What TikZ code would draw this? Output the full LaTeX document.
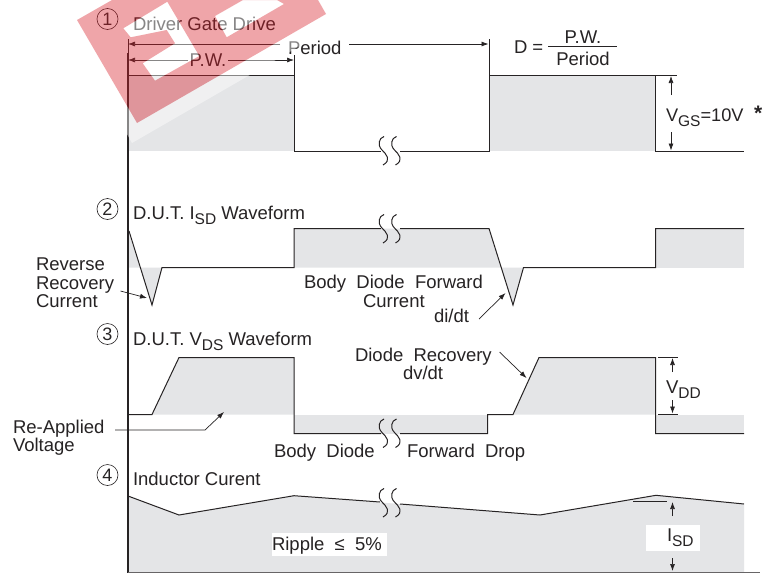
\documentclass[tikz,border=0pt]{standalone}
\usepackage{fontspec}
\setmainfont{Liberation Sans}
\usetikzlibrary{arrows.meta}
\definecolor{ink}{HTML}{262324}
\definecolor{shade}{HTML}{E4E5E7}
\definecolor{wm}{HTML}{D81F2A}
\newcommand{\subs}[1]{\raisebox{-5pt}{\fontsize{15.5}{15.5}\selectfont #1}}
\newcommand{\breakS}[2]{%
 \foreach \dx in {0,12.5}{
  \draw[wave] (#1+\dx+1,#2-14.5) .. controls (#1+\dx-4,#2-13) and (#1+\dx-6,#2-6) .. (#1+\dx-1,#2-1)
     .. controls (#1+\dx+3,#2+3) and (#1+\dx+9,#2+9) .. (#1+\dx+0,#2+14);}}
\tikzset{
 x=1pt,y=-1pt,
 wave/.style={draw=ink,line width=1pt,line join=miter},
 thin line/.style={draw=ink,line width=.7pt},
 gray fill/.style={fill=shade,draw=none},
 lbl/.style={anchor=base west,inner sep=0pt,outer sep=0pt,text=ink,font=\fontsize{18.5}{18.5}\selectfont},
 clbl/.style={anchor=base,inner sep=0pt,outer sep=0pt,text=ink,font=\fontsize{18.5}{18.5}\selectfont},
 num/.style={circle,draw=ink,line width=.6pt,minimum size=21pt,inner sep=0pt,text=ink,font=\fontsize{18}{18}\selectfont},
 arr/.style={thin line,-{Latex[length=7pt,width=5pt]}},
}
\begin{document}
\begin{tikzpicture}
\useasboundingbox (0,0) rectangle (765,573);
\fill[white] (0,0) rectangle (765,573);
% fills
\fill[gray fill] (128,75.5) rectangle (294,151);
\fill[gray fill] (489,75.5) rectangle (655.5,151);
\fill[gray fill] (128,231) -- (140.3,267.5) -- (128,267.5) -- cycle;
\fill[gray fill] (140.3,267.5) -- (152,305) -- (162,267.5) -- cycle;
\fill[gray fill] (294,228.5) -- (489,228.5) -- (501,267.5) -- (294,267.5) -- cycle;
\fill[gray fill] (501,267.5) -- (513,305) -- (523.5,267.5) -- cycle;
\fill[gray fill] (655.5,228.5) rectangle (744,267.5);
\fill[gray fill] (152,414.5) -- (179,357.5) -- (294,357.5) -- (294,414.5) -- cycle;
\fill[gray fill] (294,414.5) rectangle (487.5,433.5);
\fill[gray fill] (513,414.5) -- (539,357.5) -- (655.5,357.5) -- (655.5,414.5) -- cycle;
\fill[gray fill] (655.5,414.5) rectangle (744,433.5);
\fill[gray fill] (128,496) -- (179,515) -- (294,495.7) -- (540,515) -- (656,495.3) -- (744,504) -- (744,572) -- (128,572) -- cycle;
\fill[white] (272,533) rectangle (387,556);
\fill[white] (646,525) rectangle (700,551);
% axis
\draw[draw=ink,line width=2.2pt] (128,53) -- (128,573);
\draw[thin line] (128,39) -- (128,53);
% wave 1
\draw[wave] (128,75.5) -- (294,75.5) -- (294,151) -- (381,151);
\draw[wave] (400,151) -- (489,151) -- (489,75.5) -- (655.5,75.5) -- (655.5,151) -- (744,151);
\breakS{383}{151}
% wave 2
\draw[wave] (129,231) -- (152,305) -- (162,267.5) -- (294,267.5) -- (294,228.5) -- (381,228.5);
\draw[wave] (400,228.5) -- (489,228.5) -- (513,305) -- (523.5,267.5) -- (655.5,267.5) -- (655.5,228.5) -- (744,228.5);
\breakS{383}{229}
% wave 3
\draw[wave] (128,414.5) -- (152,414.5) -- (179,357.5) -- (294,357.5) -- (294,433.5) -- (381,433.5);
\draw[wave] (400,433.5) -- (487.5,433.5) -- (487.5,414.5) -- (513,414.5) -- (539,357.5) -- (655.5,357.5) -- (655.5,433.5) -- (744,433.5);
\breakS{383}{433.5}
% wave 4
\draw[wave] (128,496) -- (179,515) -- (294,495.7) -- (380,502);
\draw[wave] (400,504) -- (540,515) -- (656,495.3) -- (744,504);
\breakS{383}{503}
\draw[draw=ink!70,line width=1pt] (128,572) -- (760,572);
% labels
\node[num] (n1) at (107.5,19) {1};
\node[num] (n2) at (107.5,209) {2};
\node[num] (n3) at (107.5,334) {3};
\node[num] (n4) at (107.5,475) {4};
\node[lbl] (t1) at (133,30) {Driver Gate Drive};
\node[lbl] (per) at (288,54) {Period};
\node[clbl] (pw) at (208,66.5) {P.W.};
\node[lbl] (deq) at (514,53) {D =};
\node[clbl] (fn) at (583,43) {P.W.};
\node[clbl] (fd) at (583,65) {Period};
\node[lbl,font=\fontsize{18.2}{18.2}\selectfont] (vgs) at (666,121) {V\subs{GS}=10V};
\node[lbl,font=\bfseries\fontsize{21}{21}\selectfont] (star) at (754,120) {*};
\node[lbl] (t2) at (133,219.5) {D.U.T. I\subs{SD} Waveform};
\node[lbl] (rr1) at (36,270) {Reverse};
\node[lbl] (rr2) at (36,289) {Recovery};
\node[lbl] (rr3) at (36,307) {Current};
\node[lbl] (bf1) at (304,288) {Body\ \ Diode\ \ Forward};
\node[lbl] (bf2) at (363,307) {Current};
\node[lbl] (did) at (434,322.5) {di/dt};
\node[lbl] (t3) at (133,345) {D.U.T. V\subs{DS} Waveform};
\node[lbl] (dr1) at (355,361) {Diode\ \ Recovery};
\node[lbl] (dr2) at (403,379) {dv/dt};
\node[lbl] (vdd) at (666,393) {V\subs{DD}};
\node[lbl] (ra1) at (13,433) {Re-Applied};
\node[lbl] (ra2) at (13,451.5) {Voltage};
\node[lbl] (bd) at (274,457) {Body\ \ Diode};
\node[lbl] (fdr) at (407,457) {Forward\ \ Drop};
\node[lbl] (t4) at (133,485.5) {Inductor Curent};
\node[lbl] (rip) at (272,550) {Ripple\ \ ≤\ \ 5\%};
\node[lbl] (isd) at (667,541) {I\subs{SD}};
% connector end points
\coordinate (pL) at (128,44); \coordinate (pLe) at (280,44);
\coordinate (pRs) at (349,44); \coordinate (pR) at (488.5,44);
\coordinate (wL) at (128,60); \coordinate (wR) at (294,60);
\coordinate (wMa) at (188,60); \coordinate (wMb) at (228,60);
\coordinate (a1) at (120.5,291); \coordinate (a1e) at (147,298);
\coordinate (a2) at (479,319); \coordinate (a2e) at (505.5,293);
\coordinate (a3) at (499.5,352); \coordinate (a3e) at (526.5,378);
\coordinate (a4) at (115,430); \coordinate (a4m) at (205,430); \coordinate (a4e) at (224,412);
% dimension lines
\draw[arr] (pLe) -- (pL);
\draw[arr] (pRs) -- (pR);
\draw[thin line] (489,39) -- (489,75);
\draw[arr] (wMa) -- (wL);
\draw[arr] (wMb) -- (wR);
\draw[thin line] (294,55) -- (294,75);
\draw[thin line] (548,46) -- (617,46);
\draw[thin line] (656,75) -- (677,75);
\draw[arr] (671,95) -- (671,76);
\draw[arr] (671,132) -- (671,150.5);
\draw[arr] (a1) -- (a1e);
\draw[arr] (a2) -- (a2e);
\draw[arr] (a3) -- (a3e);
\draw[arr] (a4) -- (a4m) -- (a4e);
\draw[thin line] (658,357) -- (678,357);
\draw[thin line] (658,414) -- (678,414);
\draw[arr] (672.5,372) -- (672.5,358);
\draw[arr] (672.5,400) -- (672.5,413.5);
\draw[thin line] (633,501) -- (667,501);
\draw[arr] (672.5,516) -- (672.5,502);
\draw[arr] (672.5,558) -- (672.5,571);
% watermark
\begin{scope}
\clip (0,0) rectangle (765,573);
\fill[white,fill opacity=.45,even odd rule]
 (62,18) -- (132,143) -- (345,20) -- (333,-3) -- (93,-3) -- cycle
 (77,20) -- (137,123) -- (326,14) -- (318,0) -- (112,0) -- cycle
 (123.3,28.3) -- (167.3,1.7) -- (199.3,56) -- (155,80.7) -- (142.7,63.3) -- (175,43.3) -- (166.7,30) -- (130.7,37.3) -- cycle
 (215,16) -- (243,0) -- (277,0) -- (284,4) -- (226.7,37.3) -- cycle;
\fill[wm,fill opacity=.4,even odd rule]
 (77,20) -- (137,123) -- (326,14) -- (318,0) -- (112,0) -- cycle
 (123.3,28.3) -- (167.3,1.7) -- (199.3,56) -- (155,80.7) -- (142.7,63.3) -- (175,43.3) -- (166.7,30) -- (130.7,37.3) -- cycle
 (215,16) -- (243,0) -- (277,0) -- (284,4) -- (226.7,37.3) -- cycle;
\end{scope}
\end{tikzpicture}
\end{document}
